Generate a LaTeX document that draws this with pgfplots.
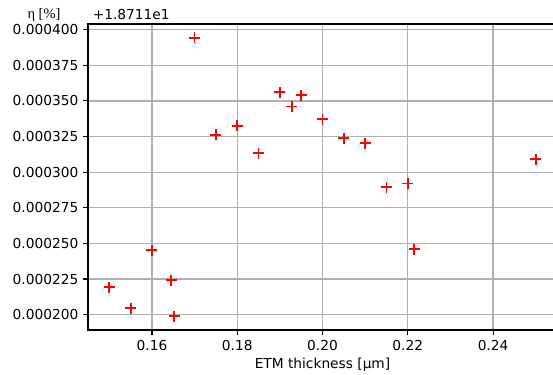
\documentclass[border=0pt]{standalone}
\usepackage{pgfplots}
\pgfplotsset{compat=1.18}
\usepackage{fontspec}
\setmainfont{DejaVu Sans}
\newfontfamily\seriffont{Liberation Serif}
\definecolor{gridgray}{HTML}{B0B0B0}

% Efficiency offsets from 18.711 % versus ETM thickness
\pgfplotstableread{
x       y
0.1500  0.0002193
0.1550  0.0002046
0.1600  0.0002453
0.1645  0.0002243
0.1652  0.0001990
0.1700  0.0003942
0.1750  0.0003262
0.1800  0.0003325
0.1850  0.0003133
0.1900  0.0003562
0.1928  0.0003461
0.1950  0.0003541
0.2000  0.0003372
0.2050  0.0003239
0.2100  0.0003204
0.2150  0.0002894
0.2200  0.0002920
0.2215  0.0002460
0.2500  0.0003091
}\etmdata

\begin{document}
\fontsize{13.8}{16}\selectfont
\begin{tikzpicture}[x=1bp,y=1bp]
\begin{axis}[
  at={(0,0)}, anchor=south west,
  scale only axis, width=469bp, height=306bp,
  xmin=0.145, xmax=0.255, ymin=0.0001892, ymax=0.0004040,
  axis line style={black, line width=1.1bp},
  xtick={0.16,0.18,0.20,0.22,0.24},
  xticklabels={0.16,0.18,0.20,0.22,0.24},
  ytick={0.0002,0.000225,0.00025,0.000275,0.0003,0.000325,0.00035,0.000375,0.0004},
  yticklabels={0.000200,0.000225,0.000250,0.000275,0.000300,0.000325,0.000350,0.000375,0.000400},
  scaled y ticks=false, scaled x ticks=false,
  tick align=outside, major tick length=4.9bp,
  tick style={black, line width=1.1bp},
  xtick pos=bottom, ytick pos=left,
  xmajorgrids, ymajorgrids,
  grid style={gridgray, line width=1.25bp},
  major grid style={gridgray, line width=1.25bp},
  tick label style={font=\fontsize{13.8}{16}\selectfont},
  xticklabel style={yshift=-1bp},
  xlabel={ETM thickness [μm]},
  xlabel style={font=\fontsize{13.8}{16}\selectfont, yshift=2bp},
  clip=false,
]
\addplot[only marks, mark=+, mark size=5.5bp, red,
  mark options={line width=1.8bp}] table[x=x, y=y] {\etmdata};
\end{axis}
% top-left labels: y label and the common offset
\node[anchor=base, font=\seriffont\fontsize{14.5}{16}\selectfont] at (-44,312) {η [\%]};
\node[anchor=base west, font=\fontsize{13.8}{16}\selectfont] at (0,311) {+1.8711e1};
\pgfresetboundingbox
\path[use as bounding box] (-88,-44) rectangle (465,306+24);
\end{tikzpicture}
\end{document}
